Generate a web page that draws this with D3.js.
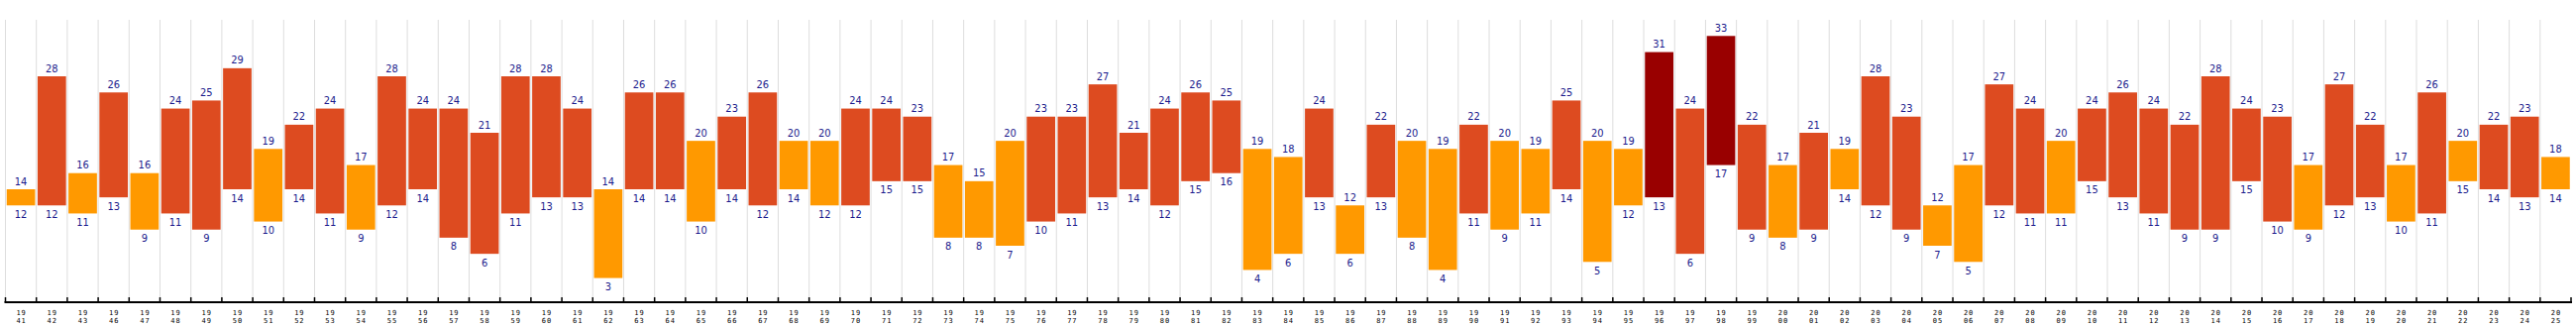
<!DOCTYPE html>
<html>
<head>
<meta charset="utf-8">
<script src="https://cdn.jsdelivr.net/npm/d3@7"></script>
<style>
  html, body { margin: 0; padding: 0; background: #fff; }
  svg { display: block; }
</style>
</head>
<body>
<svg id="chart" width="2600" height="330"></svg>
<script>
const years = [1941,1942,1943,1946,1947,1948,1949,1950,1951,1952,1953,1954,1955,1956,1957,1958,1959,1960,1961,1962,1963,
  1964,1965,1966,1967,1968,1969,1970,1971,1972,1973,1974,1975,1976,1977,1978,1979,1980,1981,1982,1983,1984,
  1985,1986,1987,1988,1989,1990,1991,1992,1993,1994,1995,1996,1997,1998,1999,2000,2001,2002,2003,2004,
  2005,2006,2007,2008,2009,2010,2011,2012,2013,2014,2015,2016,2017,2018,2019,2020,2021,2022,2023,2024,2025];
const highs = [14,28,16,26,16,24,25,29,19,22,24,17,28,24,24,21,28,28,24,14,26,
  26,20,23,26,20,20,24,24,23,17,15,20,23,23,27,21,24,26,25,19,18,
  24,12,22,20,19,22,20,19,25,20,19,31,24,33,22,17,21,19,28,23,
  12,17,27,24,20,24,26,24,22,28,24,23,17,27,22,17,26,20,22,23,18];
const lows = [12,12,11,13,9,11,9,14,10,14,11,9,12,14,8,6,11,13,13,3,14,
  14,10,14,12,14,12,12,15,15,8,8,7,10,11,13,14,12,15,16,4,6,
  13,6,13,8,4,11,9,11,14,5,12,13,6,17,9,8,9,14,12,9,
  7,5,12,11,11,15,13,11,9,9,15,10,9,12,13,10,11,15,14,13,14];
const yDomain = [0, 35];
const colorThresholds = [21, 30];
const colorRange = ["#FF9900", "#DD4B20", "#990000"];

const svg = d3.select("#chart");
const mLeft = 5.5, mRight = 2595, mTop = 20, mBottom = 305;

const x = d3.scaleBand().domain(years.map(String)).range([mLeft, mRight]).paddingInner(0.08).paddingOuter(0.04);
const y = d3.scaleLinear().domain(yDomain).range([mBottom, mTop]);
const color = d3.scaleThreshold().domain(colorThresholds).range(colorRange);

const step = x.step();
const boundaries = d3.range(years.length + 1).map(i => mLeft + i * step);

// vertical gridlines
svg.append("g").selectAll("line").data(boundaries.slice(0, years.length)).join("line")
  .attr("x1", d => d).attr("x2", d => d)
  .attr("y1", mTop).attr("y2", mBottom)
  .attr("stroke", "#dddddd").attr("stroke-width", 1);

const data = years.map((yr, i) => ({year: String(yr), hi: highs[i], lo: lows[i]}));

// bars
svg.append("g").selectAll("rect").data(data).join("rect")
  .attr("x", d => x(d.year))
  .attr("width", x.bandwidth())
  .attr("y", d => y(d.hi))
  .attr("height", d => y(d.lo) - y(d.hi))
  .attr("fill", d => color(d.hi));

const lblFont = "'DejaVu Sans Condensed', 'DejaVu Sans', sans-serif";
svg.append("g").selectAll("text").data(data).join("text")
  .attr("x", d => x(d.year) + x.bandwidth() / 2)
  .attr("y", d => y(d.hi) - 4.5)
  .attr("text-anchor", "middle")
  .attr("font-family", lblFont).attr("font-size", 11)
  .attr("fill", "#1a1a8c")
  .text(d => d.hi);
svg.append("g").selectAll("text").data(data).join("text")
  .attr("x", d => x(d.year) + x.bandwidth() / 2)
  .attr("y", d => y(d.lo) + 12.5)
  .attr("text-anchor", "middle")
  .attr("font-family", lblFont).attr("font-size", 11)
  .attr("fill", "#1a1a8c")
  .text(d => d.lo);

// axis
const axisG = svg.append("g");
axisG.append("line").attr("x1", mLeft - 1).attr("x2", mRight + 1).attr("y1", mBottom).attr("y2", mBottom)
  .attr("stroke", "#000").attr("stroke-width", 2);
axisG.selectAll("line.tick").data(boundaries).join("line").attr("class", "tick")
  .attr("x1", d => d).attr("x2", d => d).attr("y1", mBottom - 5).attr("y2", mBottom)
  .attr("stroke", "#000").attr("stroke-width", 1.5);

const tickFont = "'DejaVu Sans Mono', monospace";
const tl = axisG.selectAll("text.tl").data(data).join("text").attr("class", "tl")
  .attr("text-anchor", "middle")
  .attr("font-family", tickFont).attr("font-size", 7)
  .attr("letter-spacing", 1)
  .attr("fill", "#000");
tl.append("tspan").attr("x", d => x(d.year) + x.bandwidth() / 2 + 0.5).attr("y", 318).text(d => d.year.slice(0, 2));
tl.append("tspan").attr("x", d => x(d.year) + x.bandwidth() / 2 + 0.5).attr("y", 326).text(d => d.year.slice(2));
</script>
</body>
</html>
